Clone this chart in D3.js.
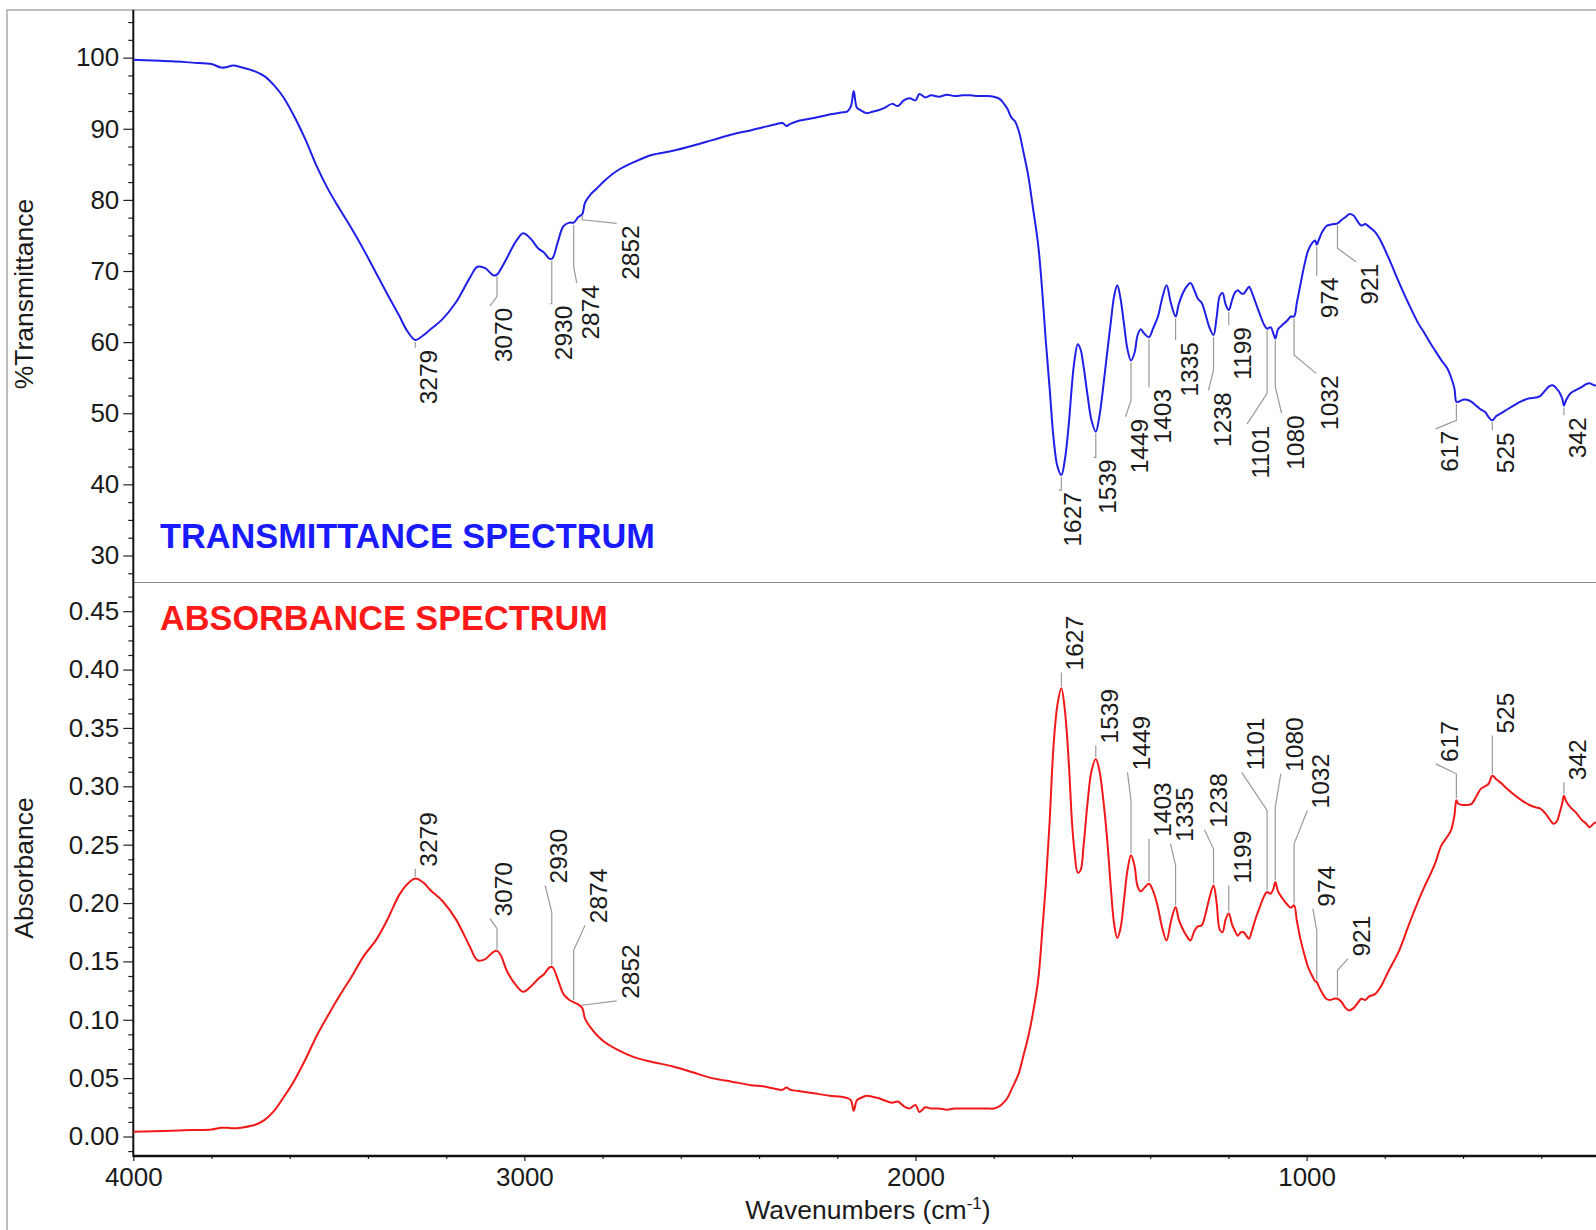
<!DOCTYPE html>
<html>
<head>
<meta charset="utf-8">
<script src="https://d3js.org/d3.v7.min.js"></script>
<style>
  body { margin: 0; background: #fff; }
  svg { display: block; font-family: "Liberation Sans", Arial, sans-serif; }
</style>
</head>
<body>
<svg id="chart" width="1596" height="1230"></svg>
<script>
// wavenumbers (cm-1) shared by both spectra
var wavenumbers = [4000, 3950, 3900, 3850, 3800, 3775, 3760, 3745, 3720, 3690, 3665, 3640, 3617, 3590, 3560, 3530, 3500, 3470, 3440, 3410,
  3380, 3350, 3320, 3300, 3279, 3260, 3240, 3210, 3175, 3140, 3120, 3100, 3080, 3070, 3060, 3045, 3020, 3003, 2985, 2965,
  2950, 2935, 2928, 2915, 2900, 2885, 2874, 2862, 2852, 2845, 2830, 2815, 2795, 2760, 2720, 2675, 2620, 2570, 2520, 2470,
  2420, 2390, 2360, 2340, 2330, 2320, 2300, 2260, 2220, 2190, 2175, 2165, 2158, 2150, 2140, 2125, 2110, 2095, 2080, 2060,
  2045, 2030, 2015, 2000, 1990, 1975, 1960, 1940, 1920, 1900, 1880, 1860, 1840, 1820, 1800, 1785, 1775, 1765, 1755, 1745,
  1735, 1725, 1712, 1700, 1686, 1675, 1667, 1657, 1647, 1637, 1627, 1618, 1608, 1600, 1594, 1585, 1578, 1570, 1560, 1550,
  1539, 1530, 1521, 1510, 1501, 1492, 1484, 1476, 1467, 1458, 1449, 1440, 1432, 1424, 1415, 1403, 1392, 1380, 1370, 1358,
  1347, 1335, 1327, 1317, 1307, 1297, 1287, 1278, 1268, 1259, 1248, 1238, 1230, 1222, 1215, 1207, 1199, 1190, 1183, 1176,
  1168, 1161, 1154, 1147, 1140, 1130, 1120, 1110, 1101, 1092, 1085, 1080, 1073, 1064, 1050, 1040, 1032, 1025, 1015, 1005,
  996, 985, 978, 974, 968, 960, 950, 940, 930, 921, 910, 900, 891, 880, 870, 860, 850, 840, 825, 811,
  790, 763, 740, 714, 700, 683, 670, 656, 640, 631, 622, 617, 612, 600, 590, 578, 565, 554, 544, 535,
  525, 515, 500, 491, 470, 450, 430, 415, 403, 390, 379, 369, 360, 354, 346, 342, 336, 325, 310, 296,
  285, 277, 262, 255];

// %T
var transmittance = [99.7, 99.6, 99.5, 99.3, 99.1, 98.6, 98.7, 98.9, 98.6, 98.1, 97.4, 96.1, 94.5, 91.9, 88.5, 84.6, 81.3, 78.5, 75.8, 72.9,
  69.8, 66.7, 63.7, 61.6, 60.3, 60.9, 61.8, 63.2, 65.6, 69.0, 70.6, 70.4, 69.4, 69.5, 70.3, 71.8, 74.3, 75.3, 74.6, 73.2,
  72.6, 71.7, 71.8, 74.0, 76.3, 76.8, 76.8, 77.6, 78.0, 79.6, 80.8, 81.6, 82.7, 84.2, 85.3, 86.3, 86.9, 87.6, 88.4, 89.2,
  89.8, 90.2, 90.6, 90.8, 90.4, 90.7, 91.1, 91.5, 92.0, 92.3, 92.4, 93.2, 95.3, 93.0, 92.6, 92.2, 92.4, 92.6, 92.9, 93.5,
  93.2, 94.0, 94.3, 94.0, 94.9, 94.4, 94.7, 94.5, 94.8, 94.6, 94.7, 94.7, 94.6, 94.6, 94.5, 94.2, 93.6, 92.8, 91.6, 91.0,
  89.5, 87.0, 83.5, 79.0, 73.5, 66.5, 60.3, 53.5, 46.5, 42.5, 41.3, 43.5, 48.5, 54.0, 57.2, 59.7, 59.0, 56.5, 52.5, 49.0,
  47.4, 49.5, 53.2, 58.5, 62.6, 66.5, 68.0, 66.2, 62.6, 59.0, 57.4, 58.5, 61.0, 61.8, 61.2, 60.7, 62.0, 63.6, 66.0, 68.0,
  65.5, 63.6, 65.3, 66.8, 67.8, 68.3, 67.3, 66.1, 65.5, 64.0, 62.0, 61.0, 63.5, 66.5, 66.9, 65.3, 64.5, 66.0, 67.0, 67.3,
  66.9, 66.8, 67.3, 67.8, 67.0, 65.5, 64.0, 62.6, 61.9, 62.1, 61.2, 60.5, 61.8, 62.3, 63.0, 63.6, 63.6, 65.5, 68.3, 71.0,
  72.9, 74.0, 74.3, 73.7, 74.5, 75.5, 76.3, 76.5, 76.6, 76.7, 77.2, 77.6, 78.0, 77.8, 77.0, 76.4, 76.6, 76.2, 75.5, 74.3,
  71.8, 68.3, 65.5, 62.6, 61.4, 59.8, 58.7, 57.5, 56.3, 55.1, 53.5, 51.6, 51.6, 51.9, 51.9, 51.6, 51.0, 50.5, 50.2, 49.5,
  49.0, 49.6, 50.1, 50.4, 51.1, 51.7, 52.1, 52.2, 52.4, 53.2, 53.8, 53.9, 53.4, 53.0, 52.0, 51.1, 51.9, 52.8, 53.3, 53.7,
  54.1, 54.2, 53.9, 54.1];

// absorbance
var absorbance = [0.004, 0.0045, 0.005, 0.0055, 0.006, 0.0075, 0.0075, 0.007, 0.0078, 0.0098, 0.014, 0.022, 0.033, 0.047, 0.066, 0.087, 0.105, 0.122, 0.138, 0.155,
  0.168, 0.186, 0.207, 0.216, 0.221, 0.218, 0.211, 0.202, 0.186, 0.163, 0.151, 0.152, 0.158, 0.159, 0.155, 0.142, 0.129, 0.124, 0.128, 0.135,
  0.139, 0.145, 0.145, 0.135, 0.122, 0.117, 0.115, 0.113, 0.110, 0.101, 0.093, 0.087, 0.081, 0.074, 0.068, 0.064, 0.060, 0.055, 0.050, 0.047,
  0.044, 0.043, 0.041, 0.040, 0.042, 0.040, 0.039, 0.037, 0.035, 0.034, 0.033, 0.031, 0.022, 0.031, 0.033, 0.035, 0.034, 0.033, 0.031, 0.029,
  0.030, 0.026, 0.024, 0.027, 0.021, 0.025, 0.024, 0.024, 0.023, 0.024, 0.024, 0.024, 0.024, 0.024, 0.024, 0.026, 0.029, 0.033, 0.040, 0.047,
  0.055, 0.068, 0.085, 0.105, 0.135, 0.180, 0.215, 0.270, 0.335, 0.370, 0.384, 0.365, 0.320, 0.270, 0.246, 0.226, 0.228, 0.250, 0.286, 0.313,
  0.3235, 0.314, 0.292, 0.255, 0.215, 0.182, 0.170, 0.178, 0.202, 0.228, 0.241, 0.232, 0.214, 0.210, 0.213, 0.2166, 0.210, 0.196, 0.180, 0.168,
  0.184, 0.1966, 0.186, 0.178, 0.172, 0.168, 0.176, 0.180, 0.181, 0.190, 0.205, 0.215, 0.200, 0.177, 0.175, 0.186, 0.191, 0.181, 0.176, 0.172,
  0.175, 0.175, 0.172, 0.1695, 0.176, 0.187, 0.196, 0.205, 0.2094, 0.208, 0.212, 0.218, 0.210, 0.205, 0.199, 0.196, 0.198, 0.185, 0.168, 0.155,
  0.145, 0.137, 0.133, 0.1324, 0.128, 0.123, 0.118, 0.117, 0.118, 0.118, 0.115, 0.110, 0.108, 0.110, 0.114, 0.118, 0.117, 0.120, 0.122, 0.128,
  0.142, 0.1595, 0.180, 0.202, 0.213, 0.225, 0.235, 0.249, 0.257, 0.262, 0.275, 0.288, 0.285, 0.284, 0.284, 0.285, 0.292, 0.298, 0.300, 0.302,
  0.309, 0.306, 0.302, 0.299, 0.293, 0.288, 0.284, 0.282, 0.281, 0.277, 0.272, 0.268, 0.270, 0.276, 0.286, 0.292, 0.287, 0.282, 0.277, 0.271,
  0.268, 0.265, 0.269, 0.267];

// peak annotations (same set on both panels)
var peaks = [3279, 3070, 2930, 2874, 2852, 1627, 1539, 1449, 1403, 1335, 1238, 1199, 1101, 1080, 1032, 974, 921, 617, 525, 342];
// where each leader line ends / bends, in data units
var topLabelW  = [3279, 3088, 2934, 2866, 2764, 1633, 1545, 1463, 1404, 1335, 1251, 1199, 1152, 1064, 976, 976, 874, 670, 525, 342];
var topLabelT  = [59.2, 65.1, 65.4, 68.3, 76.7, 39.2, 43.8, 49.5, 53.7, 60.3, 53.2, 62.4, 48.5, 50.0, 55.6, 69.4, 71.3, 47.8, 47.6, 49.7];
var topKneeT   = [null, 66.4, null, 70.6, 77.2, null, null, 51.8, null, null, 56.0, null, 52.8, 53.7, 58.2, null, 73.2, 49.0, null, null];
var botLabelW  = [3279, 3088, 2947, 2845, 2764, 1627, 1539, 1458, 1403, 1348, 1261, 1199, 1166, 1066, 998, 984, 894, 670, 525, 342];
var botLabelA  = [0.2294, 0.1867, 0.2151, 0.181, 0.1162, 0.3976, 0.335, 0.312, 0.255, 0.2508, 0.2628, 0.2151, 0.312, 0.3107, 0.2793, 0.1952, 0.1524, 0.3192, 0.3435, 0.3035];
var botKneeA   = [null, 0.178, 0.1923, 0.1595, 0.1125, null, null, 0.2879, null, 0.2323, 0.2465, null, 0.2793, 0.2821, 0.2508, 0.1766, 0.1424, 0.3107, null, null];

var xTicks = [4000, 3000, 2000, 1000];
var tTicks = [30, 40, 50, 60, 70, 80, 90, 100];
var aTicks = [0.00, 0.05, 0.10, 0.15, 0.20, 0.25, 0.30, 0.35, 0.40, 0.45];

var svg = d3.select("#chart");
var xLeft = 133.3, xRight = 1596, ySplit = 582.5, yBottom = 1156, yTop = 10;
var ink = "#1a1a1a";

var x = d3.scaleLinear().domain([4000, 260]).range([xLeft, xRight]);
var yT = d3.scaleLinear().domain([26.2, 106.7]).range([ySplit, yTop]);
var yA = d3.scaleLinear().domain([-0.0167, 0.4746]).range([yBottom, ySplit]);

var interp = function(ws, vs, w) {
  for (var i = 0; i < ws.length - 1; i++) {
    if (w <= ws[i] && w >= ws[i + 1]) {
      var t = (ws[i] - w) / (ws[i] - ws[i + 1]);
      return vs[i] + t * (vs[i + 1] - vs[i]);
    }
  }
  return vs[vs.length - 1];
};

// outer frame
svg.append("rect").attr("x", 7).attr("y", 10).attr("width", 1700).attr("height", 1300)
  .attr("fill", "none").attr("stroke", "#a8a8a8").attr("stroke-width", 1.5);

svg.append("defs").append("clipPath").attr("id", "plot")
  .append("rect").attr("x", xLeft).attr("y", yTop).attr("width", xRight - xLeft).attr("height", yBottom - yTop);

// divider between the two panels
svg.append("line").attr("x1", xLeft).attr("x2", xRight).attr("y1", ySplit).attr("y2", ySplit)
  .attr("stroke", "#888").attr("stroke-width", 1.2);

// y axes
var axT = d3.axisLeft(yT).tickValues(tTicks).tickSize(10).tickPadding(4).tickFormat(d3.format("d"));
var axA = d3.axisLeft(yA).tickValues(aTicks).tickSize(10).tickPadding(4).tickFormat(d3.format(".2f"));
var gT = svg.append("g").attr("transform", "translate(" + xLeft + ",0)").call(axT);
var gA = svg.append("g").attr("transform", "translate(" + xLeft + ",0)").call(axA);
var minorT = d3.range(27.5, 106, 2.5).filter(function(v) { return v % 10 !== 0; });
var minorA = d3.range(-0.0125, 0.47, 0.0125).filter(function(v) { return Math.abs(v / 0.05 - Math.round(v / 0.05)) > 0.01; });
svg.append("g").attr("transform", "translate(" + xLeft + ",0)")
  .call(d3.axisLeft(yT).tickValues(minorT).tickSize(5).tickFormat(""));
svg.append("g").attr("transform", "translate(" + xLeft + ",0)")
  .call(d3.axisLeft(yA).tickValues(minorA).tickSize(5).tickFormat(""));

// x axis
var gX = svg.append("g").attr("transform", "translate(0," + yBottom + ")")
  .call(d3.axisBottom(x).tickValues(xTicks).tickSize(5).tickPadding(7).tickFormat(d3.format("d")));
svg.append("g").attr("transform", "translate(0," + yBottom + ")")
  .call(d3.axisBottom(x).tickValues(d3.range(3800, 200, -200).filter(function(v) { return v % 1000 !== 0; })).tickSize(3).tickFormat(""));

svg.selectAll(".domain").remove();
svg.selectAll(".tick line").attr("stroke", "#222").attr("stroke-width", 1.2);
svg.selectAll(".tick text").attr("font-size", 26).attr("fill", ink).attr("font-family", "Liberation Sans, Arial, sans-serif");

svg.append("line").attr("x1", xLeft).attr("x2", xLeft).attr("y1", yTop).attr("y2", yBottom + 1)
  .attr("stroke", "#111").attr("stroke-width", 2);
svg.append("line").attr("x1", xLeft).attr("x2", xRight).attr("y1", yBottom).attr("y2", yBottom)
  .attr("stroke", "#111").attr("stroke-width", 2.5);

// axis titles
svg.append("text").attr("transform", "translate(33,294) rotate(-90)").attr("text-anchor", "middle")
  .attr("font-size", 26.5).attr("fill", ink).text("%Transmittance");
svg.append("text").attr("transform", "translate(33,868) rotate(-90)").attr("text-anchor", "middle")
  .attr("font-size", 26.5).attr("fill", ink).text("Absorbance");
var xt = svg.append("text").attr("x", 868).attr("y", 1219).attr("text-anchor", "middle")
  .attr("font-size", 26.5).attr("fill", ink);
xt.append("tspan").text("Wavenumbers (cm");
xt.append("tspan").attr("font-size", 17).attr("dy", -10).text("-1");
xt.append("tspan").attr("dy", 10).text(")");

// spectra
var lineT = d3.line().x(function(d, i) { return x(wavenumbers[i]); }).y(function(d) { return yT(d); })
  .curve(d3.curveCatmullRom.alpha(0.5));
var lineA = d3.line().x(function(d, i) { return x(wavenumbers[i]); }).y(function(d) { return yA(d); })
  .curve(d3.curveCatmullRom.alpha(0.5));
var plot = svg.append("g").attr("clip-path", "url(#plot)");
plot.append("path").attr("d", lineT(transmittance)).attr("fill", "none").attr("stroke", "#1f1fe8").attr("stroke-width", 2);
plot.append("path").attr("d", lineA(absorbance)).attr("fill", "none").attr("stroke", "#f01818").attr("stroke-width", 2);

// panel titles
svg.append("text").attr("x", 160).attr("y", 548).attr("font-size", 34.3).attr("font-weight", "bold")
  .attr("fill", "#1a1aff").text("TRANSMITTANCE SPECTRUM");
svg.append("text").attr("x", 160).attr("y", 630).attr("font-size", 34.3).attr("font-weight", "bold")
  .attr("fill", "#ff1a1a").text("ABSORBANCE SPECTRUM");

// peak labels
var drawLabels = function(values, yScale, labelW, labelV, kneeV, below) {
  peaks.forEach(function(p, i) {
    var px = x(p), py = yScale(interp(wavenumbers, values, p));
    var lx = x(labelW[i]), ly = yScale(labelV[i]);
    var ky = kneeV[i] === null ? ly : yScale(kneeV[i]);
    var pts = [[px, py + (below ? 2 : -2)], [px, ky], [lx, ly]];
    svg.append("path").attr("d", d3.line()(pts)).attr("fill", "none")
      .attr("stroke", "#9a9a9a").attr("stroke-width", 1.2);
    svg.append("text")
      .attr("transform", "translate(" + (lx + 13.5) + "," + (below ? ly + 2 : ly - 2) + ") rotate(-90)")
      .attr("text-anchor", below ? "end" : "start")
      .attr("dy", "0.35em").attr("font-size", 24.5).attr("fill", ink)
      .text(p);
  });
};
drawLabels(transmittance, yT, topLabelW, topLabelT, topKneeT, true);
drawLabels(absorbance, yA, botLabelW, botLabelA, botKneeA, false);
</script>
</body>
</html>
